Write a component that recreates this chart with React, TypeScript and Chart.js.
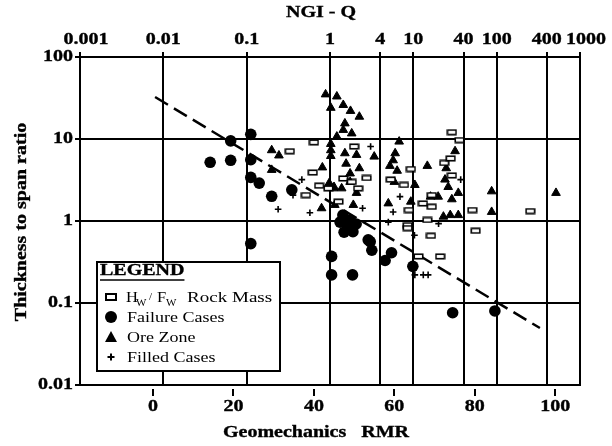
import React, { useEffect, useRef } from "react";
import { Chart, registerables } from "chart.js";

Chart.register(...registerables);

// ---------- axis ticks ----------
const qTicks = [0.001, 0.01, 0.1, 1, 4, 10, 40, 100, 400, 1000];
const qTickLabels = ["0.001", "0.01", "0.1", "1", "4", "10", "40", "100", "400", "1000"];
const rmrTicks = [0, 20, 40, 60, 80, 100];
const rmrTickLabels = ["0", "20", "40", "60", "80", "100"];
const ratioTicks = [0.01, 0.1, 1, 10, 100];
const ratioTickLabels = ["0.01", "0.1", "1", "10", "100"];

// RMR = 9 ln Q + 44 links the two horizontal axes
const rmrMin = 44 + 9 * Math.log(0.001);
const rmrMax = 44 + 9 * Math.log(1000);

// ---------- data (x = Geomechanics RMR, y = thickness to span ratio) ----------
const failureRMR = [14.2, 19.3, 19.3, 24.3, 24.3, 24.3, 26.4, 29.5, 24.3, 34.5, 44.4, 44.4, 49.6, 64.6, 74.5, 85.0, 54.0, 54.4, 59.3, 57.7, 48.6, 49.7, 47.2, 49.0, 50.5, 47.5, 53.5, 46.5];
const failureRatio = [5.2, 5.5, 9.5, 11.4, 5.6, 3.4, 2.9, 2.0, 0.53, 2.4, 0.37, 0.22, 0.22, 0.28, 0.076, 0.08, 0.56, 0.44, 0.41, 0.33, 0.89, 0.74, 1.18, 1.03, 0.92, 0.73, 0.59, 0.97];

const oreRMR = [29.5, 31.3, 29.5, 42.1, 41.9, 42.9, 45.7, 44.2, 44.2, 44.2, 44.2, 43.8, 45.0, 47.3, 49.1, 51.3, 47.7, 47.3, 49.4, 45.7, 61.2, 47.7, 50.6, 55.0, 60.2, 59.7, 48.0, 51.3, 58.9, 60.7, 49.0, 68.2, 75.1, 72.9, 72.6, 49.0, 46.9, 44.8, 50.6, 65.1, 60.0, 58.5, 64.1, 69.0, 70.9, 73.4, 74.3, 75.9, 84.2, 84.2, 72.2, 73.9, 75.9, 45.2, 49.8, 100.2];
const oreRatio = [7.3, 6.3, 4.2, 4.5, 1.43, 35, 33, 24, 8.7, 7.3, 6.2, 2.9, 2.6, 26, 22, 18.7, 15.5, 12.9, 11.7, 10.7, 9.3, 6.7, 6.4, 6.1, 6.7, 5.5, 5.0, 4.4, 4.7, 4.1, 3.8, 4.7, 7.1, 4.4, 3.2, 3.0, 2.5, 2.5, 2.2, 2.75, 3.0, 1.64, 1.72, 1.98, 1.98, 2.6, 1.84, 2.2, 2.3, 1.29, 1.13, 1.18, 1.18, 1.57, 1.57, 2.2];

const rockRMR = [40.0, 34.0, 39.7, 41.3, 38.0, 43.6, 50.0, 47.3, 53.1, 49.4, 51.0, 46.1, 64.1, 59.1, 62.4, 69.3, 67.1, 69.3, 63.6, 68.2, 63.3, 63.3, 69.1, 80.2, 79.4, 74.3, 76.2, 72.4, 74.0, 74.3, 66.0, 71.4, 93.8];
const rockRatio = [9.1, 7.1, 3.9, 2.7, 2.07, 2.5, 8.1, 3.3, 3.35, 3.0, 2.5, 1.72, 4.3, 3.2, 2.75, 2.07, 1.64, 1.49, 1.36, 1.03, 0.89, 0.82, 0.66, 0.76, 1.36, 12.1, 9.7, 5.1, 5.8, 3.6, 0.37, 0.37, 1.32];

const filledRMR = [37.0, 31.1, 39.0, 34.8, 54.1, 61.4, 59.7, 52.1, 76.5, 65.0, 71.0, 58.5, 65.1, 67.2, 68.4];
const filledRatio = [3.2, 1.39, 1.26, 2.07, 8.1, 1.98, 1.29, 1.43, 3.2, 0.67, 0.93, 0.97, 0.22, 0.22, 0.22];

const trendRMR = [0.5, 96.2];
const trendRatio = [32.5, 0.0495];

const FONT = '"Liberation Serif", "Times New Roman", serif';

function drawText(
  ctx: CanvasRenderingContext2D,
  text: string,
  x: number,
  y: number,
  size: number,
  bold: boolean,
  align: CanvasTextAlign,
  sx: number,
  rotate = false,
  baseline: CanvasTextBaseline = "middle"
) {
  ctx.save();
  ctx.translate(x, y);
  if (rotate) ctx.rotate(-Math.PI / 2);
  ctx.scale(sx, 1);
  ctx.font = `${bold ? "bold " : ""}${size}px ${FONT}`;
  ctx.fillStyle = "#000";
  ctx.textAlign = align;
  ctx.textBaseline = baseline;
  ctx.fillText(text, 0, 0);
  if (bold) {
    ctx.strokeStyle = "#000";
    ctx.lineWidth = 0.35;
    ctx.strokeText(text, 0, 0);
  }
  ctx.restore();
}

function textWidth(ctx: CanvasRenderingContext2D, text: string, size: number, bold: boolean, sx: number) {
  ctx.save();
  ctx.font = `${bold ? "bold " : ""}${size}px ${FONT}`;
  const w = ctx.measureText(text).width * sx;
  ctx.restore();
  return w;
}

const SX = 1.25;
const AX = 16;

const decorPlugin = {
  id: "decor",
  afterDraw(chart: any) {
    const ctx: CanvasRenderingContext2D = chart.ctx;
    const xs = chart.scales.x;
    const qs = chart.scales.q;
    const ys = chart.scales.y;
    const area = chart.chartArea;

    // bottom axis tick marks (detached from the axis line)
    ctx.save();
    ctx.strokeStyle = "#000";
    ctx.lineWidth = 2;
    rmrTicks.forEach((v) => {
      const px = Math.round(xs.getPixelForValue(v));
      ctx.beginPath();
      ctx.moveTo(px, area.bottom + 4);
      ctx.lineTo(px, area.bottom + 11);
      ctx.stroke();
    });
    ctx.restore();

    // titles
    drawText(ctx, "NGI - Q", 321, 13, AX, true, "center", SX);
    drawText(ctx, "Geomechanics   RMR", 316, 433, AX, true, "center", SX);
    drawText(ctx, "Thickness to span ratio", 22, 222, AX, true, "center", SX, true);

    // top tick labels
    qTicks.forEach((v, i) => {
      let px = qs.getPixelForValue(v);
      if (i === 0 || i === qTicks.length - 1) px += 6;
      drawText(ctx, qTickLabels[i], px, 40, AX, true, "center", SX);
    });
    // bottom tick labels
    rmrTicks.forEach((v, i) => {
      drawText(ctx, rmrTickLabels[i], xs.getPixelForValue(v), 407, AX, true, "center", SX);
    });
    // left tick labels
    ratioTicks.forEach((v, i) => {
      drawText(ctx, ratioTickLabels[i], 73, ys.getPixelForValue(v), AX, true, "right", SX);
    });

    // legend box
    const bx = 97, by = 262, bw = 183, bh = 109;
    ctx.save();
    ctx.fillStyle = "#fff";
    ctx.fillRect(bx, by, bw, bh);
    ctx.strokeStyle = "#000";
    ctx.lineWidth = 2;
    ctx.strokeRect(bx, by, bw, bh);
    ctx.restore();

    drawText(ctx, "LEGEND", 100, 271, AX, true, "left", SX);
    const lw = textWidth(ctx, "LEGEND", AX, true, SX);
    ctx.save();
    ctx.strokeStyle = "#000";
    ctx.lineWidth = 1.5;
    ctx.beginPath();
    ctx.moveTo(100, 280);
    ctx.lineTo(100 + lw, 280);
    ctx.stroke();
    ctx.restore();

    const symX = 111;
    const txtX = 127;
    const LS = 1.2;
    const LF = 15;
    const rows = [297, 317, 337, 357];

    // rock mass symbol
    ctx.save();
    ctx.strokeStyle = "#000";
    ctx.lineWidth = 2;
    ctx.strokeRect(symX - 5, rows[0] - 3, 10, 6);
    ctx.restore();
    // H_W / F_W  Rock Mass
    const base0 = rows[0] + 5;
    drawText(ctx, "H", 126, base0, LF, false, "left", 1.1, false, "alphabetic");
    drawText(ctx, "W", 136, base0 + 4, 10, false, "left", 1.1, false, "alphabetic");
    drawText(ctx, "/", 149, base0 - 2, 10, false, "left", 1.1, false, "alphabetic");
    drawText(ctx, "F", 157, base0, LF, false, "left", 1.1, false, "alphabetic");
    drawText(ctx, "W", 166, base0 + 4, 10, false, "left", 1.1, false, "alphabetic");
    drawText(ctx, "Rock Mass", 187, base0, LF, false, "left", 1.27, false, "alphabetic");

    // failure symbol
    ctx.save();
    ctx.fillStyle = "#000";
    ctx.beginPath();
    ctx.arc(symX, rows[1], 6, 0, Math.PI * 2);
    ctx.fill();
    // ore symbol
    ctx.beginPath();
    ctx.moveTo(symX - 6, rows[2] + 5);
    ctx.lineTo(symX + 6, rows[2] + 5);
    ctx.lineTo(symX, rows[2] - 6);
    ctx.closePath();
    ctx.fill();
    // filled symbol
    ctx.strokeStyle = "#000";
    ctx.lineWidth = 2;
    ctx.beginPath();
    ctx.moveTo(symX - 3.5, rows[3]);
    ctx.lineTo(symX + 3.5, rows[3]);
    ctx.moveTo(symX, rows[3] - 3.5);
    ctx.lineTo(symX, rows[3] + 3.5);
    ctx.stroke();
    ctx.restore();

    drawText(ctx, "Failure Cases", txtX, rows[1] + 5, LF, false, "left", LS, false, "alphabetic");
    drawText(ctx, "Ore Zone", txtX, rows[2] + 5, LF, false, "left", LS, false, "alphabetic");
    drawText(ctx, "Filled Cases", txtX, rows[3] + 5, LF, false, "left", LS, false, "alphabetic");
  },
};

function pts(xs: number[], ys: number[]) {
  return xs.map((x, i) => ({ x, y: ys[i] }));
}

export default function App() {
  const ref = useRef<HTMLCanvasElement>(null);

  useEffect(() => {
    const canvas = ref.current;
    if (!canvas) return;

    const rectImg = document.createElement("canvas");
    rectImg.width = 11;
    rectImg.height = 7;
    const rc = rectImg.getContext("2d")!;
    rc.fillStyle = "#fff";
    rc.fillRect(1, 1, 9, 5);
    rc.strokeStyle = "#000";
    rc.lineWidth = 1.6;
    rc.strokeRect(1.25, 1.25, 8.5, 4.5);

    const gridStyle = { color: "#000", lineWidth: 2, tickLength: 5, drawTicks: true, tickColor: "#000", tickWidth: 2 };
    const border = { display: true, color: "#000", width: 2 };

    const chart = new Chart(canvas, {
      type: "scatter",
      data: {
        datasets: [
          {
            label: "HW / FW Rock Mass",
            data: pts(rockRMR, rockRatio),
            pointStyle: rectImg as any,
            pointRadius: 5,
            borderColor: "#000",
            backgroundColor: "#fff",
          },
          {
            label: "Ore Zone",
            data: pts(oreRMR, oreRatio),
            pointStyle: "triangle",
            pointRadius: 5,
            backgroundColor: "#000",
            borderColor: "#000",
            borderWidth: 1,
          },
          {
            label: "Failure Cases",
            data: pts(failureRMR, failureRatio),
            pointStyle: "circle",
            pointRadius: 5.8,
            backgroundColor: "#000",
            borderColor: "#000",
            borderWidth: 0,
          },
          {
            label: "Filled Cases",
            data: pts(filledRMR, filledRatio),
            pointStyle: "cross",
            pointRadius: 3.3,
            borderColor: "#000",
            borderWidth: 1.6,
          },
          {
            type: "line",
            label: "trend",
            data: pts(trendRMR, trendRatio),
            showLine: true,
            borderColor: "#000",
            borderWidth: 2.5,
            borderDash: [15, 7],
            pointRadius: 0,
            fill: false,
          } as any,
        ],
      },
      options: {
        responsive: false,
        animation: false,
        devicePixelRatio: 1,
        layout: { autoPadding: false, padding: { left: 0, right: 32, top: 0, bottom: 0 } },
        plugins: { legend: { display: false }, tooltip: { enabled: false } },
        scales: {
          x: {
            type: "linear",
            position: "bottom",
            min: rmrMin,
            max: rmrMax,
            grid: { display: false },
            border,
            ticks: { display: false },
            afterBuildTicks: (s: any) => {
              s.ticks = rmrTicks.map((v) => ({ value: v }));
            },
            afterFit: (s: any) => {
              s.height = 61;
              s.paddingLeft = 0;
              s.paddingRight = 0;
            },
          },
          q: {
            type: "logarithmic",
            position: "top",
            min: 0.001,
            max: 1000,
            grid: gridStyle,
            border,
            ticks: { display: false },
            afterBuildTicks: (s: any) => {
              s.ticks = qTicks.map((v) => ({ value: v }));
            },
            afterFit: (s: any) => {
              s.height = 57;
              s.paddingLeft = 0;
              s.paddingRight = 0;
            },
          },
          y: {
            type: "logarithmic",
            position: "left",
            min: 0.01,
            max: 100,
            grid: gridStyle,
            border,
            ticks: { display: false },
            afterBuildTicks: (s: any) => {
              s.ticks = ratioTicks.map((v) => ({ value: v }));
            },
            afterFit: (s: any) => {
              s.width = 80;
              s.paddingTop = 0;
              s.paddingBottom = 0;
            },
          },
        } as any,
      },
      plugins: [decorPlugin],
    });

    return () => chart.destroy();
  }, []);

  return (
    <div style={{ position: "fixed", left: 0, top: 0, width: 612, height: 446, background: "#fff" }}>
      <canvas ref={ref} width={612} height={446} style={{ display: "block" }} />
    </div>
  );
}
